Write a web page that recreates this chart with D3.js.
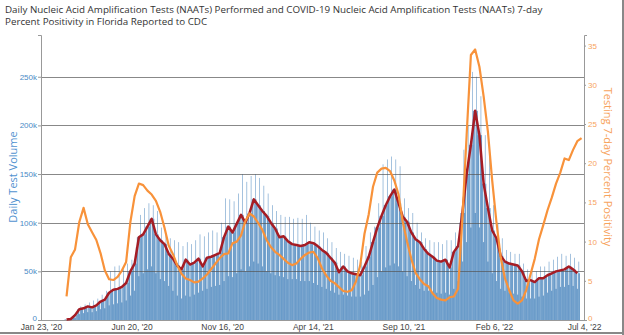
<!DOCTYPE html>
<html>
<head>
<meta charset="utf-8">
<script src="https://cdn.jsdelivr.net/npm/d3@7"></script>
<style>
  body { margin: 0; background: #fff; }
  svg { display: block; }
</style>
</head>
<body>
<svg id="chart" width="624" height="335"></svg>
<script>
// weekly values, first value is the week of Mar 5 2020 (week 6 after Jan 23 2020)
var startDate = '2020-01-23';
var endDate = '2022-07-04';
var firstWeek = 6;
var xTickDates = ['2020-01-23', '2020-06-20', '2020-11-16', '2021-04-14', '2021-09-10', '2022-02-06', '2022-07-04'];
var leftTicks = [0, 50, 100, 150, 200, 250];
var rightTicks = [0, 5, 10, 15, 20, 25, 30, 35];

// 7-day average test volume (thousands)
var avgTests = [
  0.5, 1, 5, 11, 12, 14, 13, 15, 19, 21,
  28, 31, 32, 34, 38, 50, 58, 85, 88, 96,
  104, 88, 82, 78, 68, 63, 56, 52, 62, 57,
  59, 63, 55, 64, 65, 67, 69, 85, 96, 90,
  99, 108, 100, 110, 124, 118, 112, 107, 100, 94,
  85, 86, 81, 78, 77, 76, 77, 80, 79, 76,
  72, 69, 64, 59, 49, 55, 50, 48, 47, 46,
  55, 65, 80, 95, 107, 118, 127, 134, 120, 106,
  101, 90, 83, 80, 73, 68, 65, 61, 60, 62,
  54, 70, 76, 110, 150, 180, 215, 190, 140, 115,
  92, 84, 66, 60, 58, 57, 56, 50, 40, 41,
  39, 43, 43, 46, 48, 50, 51, 52, 55, 52, 48
];
// highest day of each week (thousands)
var peakTests = [
  0, 2, 8, 14, 16, 18, 20, 22, 26, 30,
  50, 55, 56, 52, 58, 62, 75, 108, 115, 120,
  118, 112, 95, 88, 84, 82, 80, 76, 80, 78,
  82, 88, 86, 90, 92, 90, 100, 125, 124, 122,
  130, 150, 142, 148, 150, 146, 138, 130, 118, 112,
  108, 106, 106, 104, 105, 104, 108, 100, 96, 92,
  90, 84, 80, 74, 70, 68, 66, 64, 62, 60,
  76, 90, 96, 120, 160, 165, 168, 165, 158, 125,
  115, 110, 100, 90, 84, 82, 80, 80, 78, 82,
  82, 90, 100, 175, 200, 255, 250, 230, 190, 183,
  118, 100, 84, 72, 70, 68, 68, 58, 52, 50,
  50, 55, 55, 60, 62, 65, 68, 66, 68, 64, 60
];
// weekend days (thousands)
var lowTests = [
  0, 0.5, 2, 6, 7, 8, 8, 9, 11, 12,
  15, 16, 17, 18, 20, 25, 30, 45, 48, 52,
  55, 48, 42, 40, 35, 30, 25, 22, 25, 24,
  26, 28, 30, 32, 34, 35, 36, 40, 45, 44,
  48, 52, 50, 55, 60, 58, 55, 50, 48, 46,
  45, 44, 42, 42, 42, 40, 40, 40, 38, 36,
  34, 32, 30, 28, 26, 26, 25, 24, 24, 24,
  26, 30, 36, 44, 50, 54, 56, 58, 55, 50,
  45, 40, 36, 32, 30, 30, 28, 28, 27, 28,
  26, 32, 40, 60, 80, 95, 110, 95, 80, 60,
  48, 40, 32, 30, 28, 27, 26, 24, 22, 22,
  22, 24, 25, 28, 30, 32, 34, 34, 36, 35, 32
];
// 7-day percent positivity
var positivity = [
  3.0, 8.0, 9.0, 12.5, 14.3, 12.2, 11.2, 10.2, 8.5, 6.3,
  5.2, 5.1, 5.5, 6.3, 7.4, 12.5, 15.8, 17.4, 17.2, 16.5,
  16.0, 15.2, 13.8, 11.8, 9.5, 8.4, 7.0, 5.9, 5.3, 5.1,
  4.8, 4.9, 5.3, 5.8, 6.5, 7.2, 7.9, 8.4, 8.5, 9.8,
  10.0, 10.8, 12.6, 13.6, 13.2, 12.4, 11.5, 10.2, 9.3, 8.7,
  8.3, 7.8, 7.3, 7.0, 7.2, 7.8, 8.3, 8.6, 8.7, 7.9,
  6.6, 5.7, 5.0, 4.7, 4.2, 3.7, 3.6, 3.8, 4.9, 7.0,
  11.0, 13.5, 17.0, 18.8, 19.3, 19.4, 19.0, 17.8, 16.0, 12.5,
  10.0, 7.8, 6.0, 5.2, 4.6, 4.3, 3.4, 2.8, 2.6, 2.5,
  2.9, 3.0, 4.0, 13.0, 23.6, 33.8, 34.5, 32.3, 28.5, 24.0,
  17.8, 12.5, 8.0, 5.3, 3.8, 2.5, 2.1, 2.5, 3.8, 5.8,
  7.8, 10.3, 12.1, 14.0, 15.6, 17.4, 18.8, 20.6, 20.4, 21.7, 22.8, 23.2
];

(function(d3) {
  'use strict';

  var parse = d3.timeParse('%Y-%m-%d');
  var t0 = parse(startDate);
  var margin = { left: 41, right: 584, top: 35, bottom: 320 };

  var svg = d3.select('#chart');

  var x = d3.scaleTime()
    .domain([t0, parse(endDate)])
    .range([margin.left, margin.right]);
  var yL = d3.scaleLinear().domain([0, 292.9]).range([margin.bottom, margin.top]);
  var yR = d3.scaleLinear().domain([0, 36.35]).range([margin.bottom, margin.top]);

  function weekDate(i) {
    return d3.timeDay.offset(t0, 7 * (firstWeek + i));
  }

  // daily bars: weekend days low, one peak day, the rest at the weekly level
  var bars = [];
  avgTests.forEach(function(v, i) {
    var wd = weekDate(i);
    var dayVals = [v, v, lowTests[i], lowTests[i], v, peakTests[i], v];
    dayVals.forEach(function(dv, k) {
      bars.push({ day: d3.timeDay.offset(wd, k - 3), value: dv, peak: k === 5 });
    });
  });

  // solid mass first, thin peak days and weekend notches on top
  var barG = svg.append('g');
  barG.selectAll('rect.mass')
    .data(bars.filter(function(d) { return !d.peak; }))
    .enter()
    .append('rect')
    .attr('class', 'mass')
    .attr('x', function(d) { return x(d.day) - 0.2; })
    .attr('width', function(d) { return x(d3.timeDay.offset(d.day, 1)) - x(d.day) + 0.4; })
    .attr('y', function(d) { return yL(d.value); })
    .attr('height', function(d) { return yL(0) - yL(d.value); })
    .attr('fill', '#6a9bc9');

  barG.selectAll('rect.peak')
    .data(bars.filter(function(d) { return d.peak; }))
    .enter()
    .append('rect')
    .attr('class', 'peak')
    .attr('x', function(d) { return x(d.day); })
    .attr('width', function(d) { return x(d3.timeDay.offset(d.day, 1)) - x(d.day); })
    .attr('y', function(d) { return yL(d.value); })
    .attr('height', function(d) { return yL(0) - yL(d.value); })
    .attr('fill', '#6a9bc9');

  // gridlines
  svg.append('g')
    .selectAll('line')
    .data(leftTicks.slice(1))
    .enter()
    .append('line')
    .attr('x1', margin.left)
    .attr('x2', margin.right)
    .attr('y1', function(d) { return Math.round(yL(d)) + 0.5; })
    .attr('y2', function(d) { return Math.round(yL(d)) + 0.5; })
    .attr('stroke', '#555')
    .attr('stroke-opacity', 0.7)
    .attr('stroke-width', 1.2);

  // baseline
  svg.append('line')
    .attr('x1', margin.left).attr('x2', margin.right)
    .attr('y1', margin.bottom + 0.5).attr('y2', margin.bottom + 0.5)
    .attr('stroke', '#999');

  var avgLine = d3.line()
    .x(function(d, i) { return x(weekDate(i)); })
    .y(function(d) { return yL(d); });

  var posLine = d3.line()
    .x(function(d, i) { return x(weekDate(i)); })
    .y(function(d) { return yR(d); });

  svg.append('path')
    .attr('d', avgLine(avgTests))
    .attr('fill', 'none')
    .attr('stroke', '#a51c24')
    .attr('stroke-width', 2.5)
    .attr('stroke-linejoin', 'round');

  svg.append('path')
    .attr('d', posLine(positivity))
    .attr('fill', 'none')
    .attr('stroke', '#f8923a')
    .attr('stroke-width', 2.2)
    .attr('stroke-linejoin', 'round');

  // axes
  var fmtK = function(d) { return d === 0 ? '0' : d + 'k'; };
  var leftAxis = svg.append('g')
    .attr('transform', 'translate(' + margin.left + ',0)')
    .call(d3.axisLeft(yL).tickValues(leftTicks).tickFormat(fmtK).tickSize(3).tickSizeOuter(3).tickPadding(1));
  leftAxis.selectAll('path, line').attr('stroke', '#999');
  leftAxis.selectAll('text')
    .attr('fill', '#4a8ac6')
    .style('font-family', 'Liberation Sans, Arial, sans-serif')
    .style('font-size', '8px');
  leftAxis.selectAll('.tick text').filter(function(d) { return d === 0; }).attr('dy', '0.1em');

  var rightAxis = svg.append('g')
    .attr('transform', 'translate(' + margin.right + ',0)')
    .call(d3.axisRight(yR).tickValues(rightTicks).tickSize(2).tickSizeOuter(3).tickPadding(2));
  rightAxis.selectAll('path, line').attr('stroke', '#999');
  rightAxis.selectAll('text')
    .attr('fill', '#f7a35c')
    .style('font-family', 'Liberation Sans, Arial, sans-serif')
    .style('font-size', '8px');
  rightAxis.selectAll('.tick text').filter(function(d) { return d === 0; }).attr('dy', '0.1em');

  var fmtDate = d3.timeFormat("%b %-d, '%y");
  var bottomAxis = svg.append('g')
    .attr('transform', 'translate(0,' + margin.bottom + ')')
    .call(d3.axisBottom(x).tickValues(xTickDates.map(parse)).tickFormat(fmtDate).tickSize(0).tickPadding(4));
  bottomAxis.select('.domain').remove();
  bottomAxis.selectAll('text')
    .attr('fill', '#444')
    .style('font-family', 'Liberation Sans, Arial, sans-serif')
    .style('font-size', '8.5px');

  // axis titles
  svg.append('text')
    .attr('transform', 'translate(17,177) rotate(-90)')
    .attr('text-anchor', 'middle')
    .attr('fill', '#5192d0')
    .style('font-family', 'Open Sans, sans-serif')
    .style('font-size', '11px')
    .text('Daily Test Volume');

  svg.append('text')
    .attr('transform', 'translate(604,167) rotate(90)')
    .attr('text-anchor', 'middle')
    .attr('fill', '#f7a35c')
    .style('font-family', 'Open Sans, sans-serif')
    .style('font-size', '11px')
    .text('Testing 7-day Percent Positivity');

  // title
  var title = svg.append('text')
    .attr('x', 5)
    .attr('fill', '#333')
    .style('font-family', 'Open Sans, sans-serif')
    .style('font-size', '9.8px');
  title.append('tspan').attr('x', 5).attr('y', 13)
    .text('Daily Nucleic Acid Amplification Tests (NAATs) Performed and COVID-19 Nucleic Acid Amplification Tests (NAATs) 7-day');
  title.append('tspan').attr('x', 5).attr('y', 25)
    .text('Percent Positivity in Florida Reported to CDC');

  // frame edges of the picture
  svg.append('line').attr('x1', 0).attr('x2', 624).attr('y1', 333).attr('y2', 333)
    .attr('stroke', '#888').attr('stroke-width', 2);
  svg.append('line').attr('x1', 623).attr('x2', 623).attr('y1', 0).attr('y2', 335)
    .attr('stroke', '#888').attr('stroke-width', 2);

})(window.d3);
</script>
</body>
</html>
